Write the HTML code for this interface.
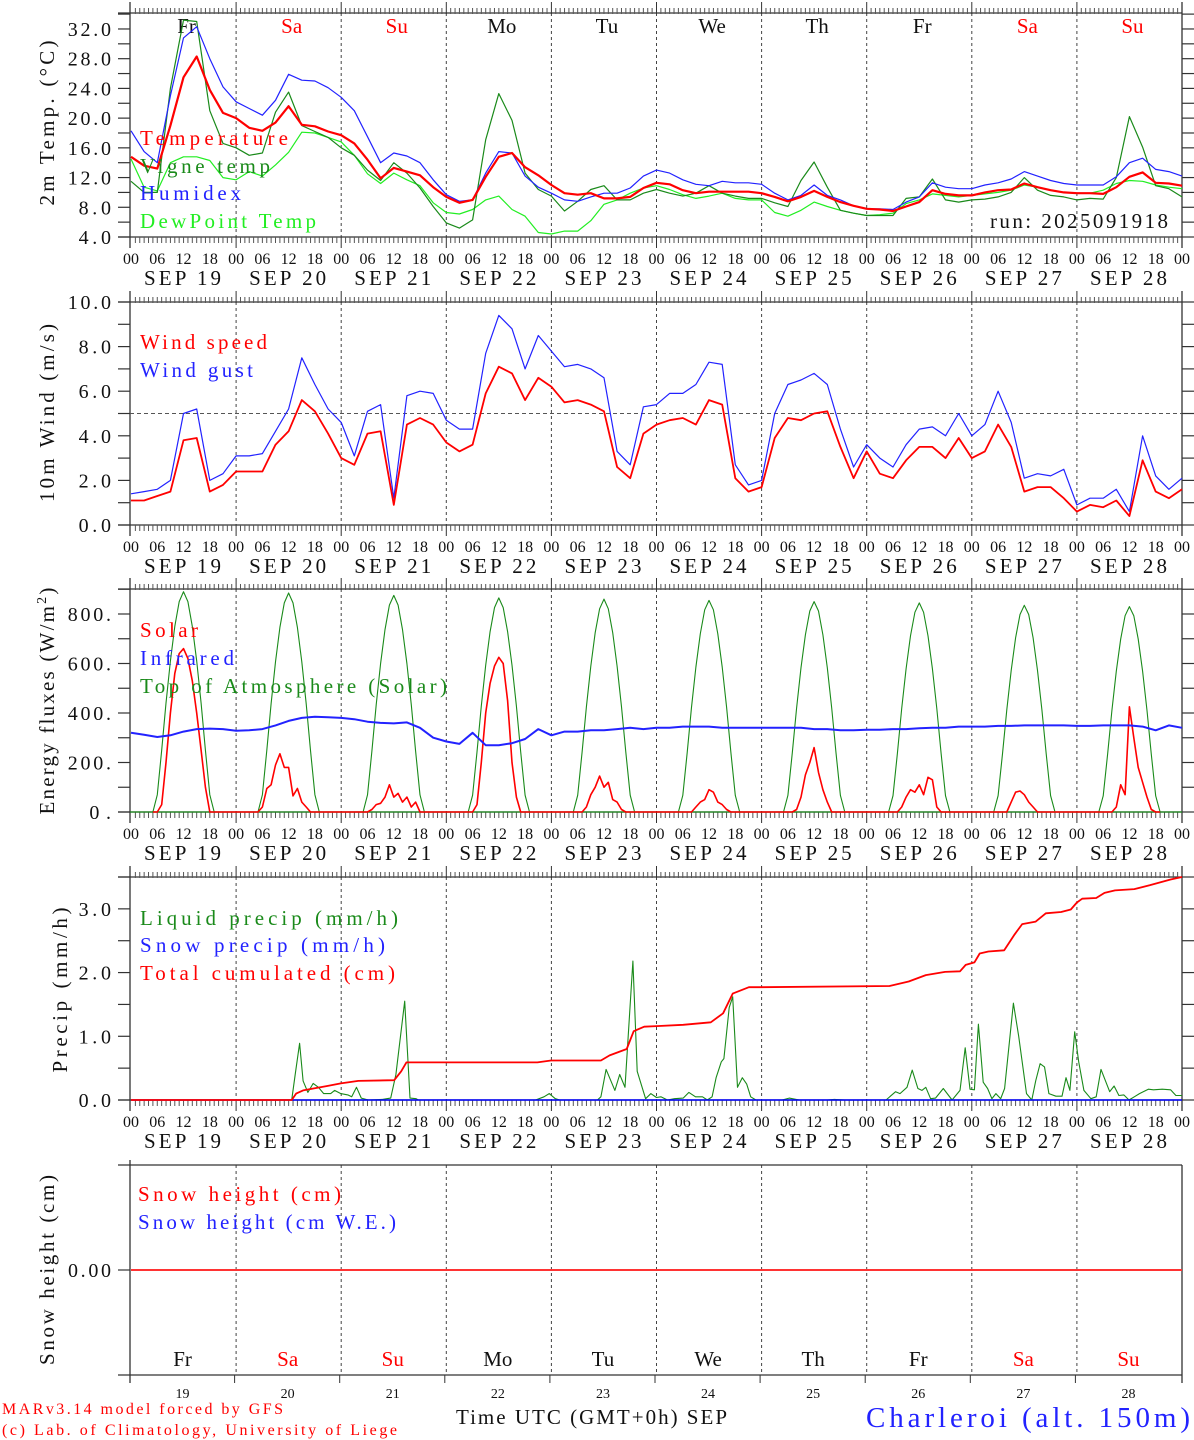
<!DOCTYPE html>
<html><head><meta charset="utf-8">
<style>
html,body{margin:0;padding:0;background:#fff;}
svg{display:block;font-family:"Liberation Serif",serif;}
</style></head>
<body>
<svg id="chart" width="1194" height="1440" viewBox="0 0 1194 1440" xmlns="http://www.w3.org/2000/svg">
<rect x="0" y="0" width="1194" height="1440" fill="#fff"/>
</svg>
<script>
// ---------- data ----------
const dayNames = ['Fr','Sa','Su','Mo','Tu','We','Th','Fr','Sa','Su'];
const dayNums = ['19','20','21','22','23','24','25','26','27','28'];
const hourLabels = ['00','06','12','18'];
const tempTickLabels = ['4.0','8.0','12.0','16.0','20.0','24.0','28.0','32.0'];
const windTickLabels = ['0.0','2.0','4.0','6.0','8.0','10.0'];
const energyTickLabels = ['0.','200.','400.','600.','800.'];
const precipTickLabels = ['0.0','1.0','2.0','3.0'];

const temperature = [14.8,13.6,13.2,19,25.5,28.3,23.8,20.7, 20,18.7,18.3,19.4,21.6,19.1,18.9,18.2, 17.7,16.6,14.4,11.9,13.3,12.8,12.3,10.7, 9.4,8.6,9,12.1,14.8,15.3,13.4,12.3, 11,9.9,9.7,9.9,9.2,9.2,9.4,10.6, 11.3,11.1,10.3,9.9,10.1,10.1,10.1,10.1, 9.9,9.4,8.8,9.4,10.2,9.4,8.7,8.2, 7.8,7.7,7.5,8.1,8.7,10.3,9.8,9.6, 9.6,10,10.3,10.4,11.2,10.7,10.3,10, 9.9,9.9,9.8,10.7,12.1,12.7,11.3,11.2,10.9];
const humidex = [18.3,15.5,14,23,30.8,32.3,28,24.2, 22.2,21.3,20.4,22.4,25.9,25.1,25,24.1, 22.8,21,17.5,14,15.3,14.9,14,11.7, 9.7,8.8,9,12.6,15.5,15.3,12.2,10.7, 9.9,9,8.8,9.4,9.9,9.9,10.6,12.2, 13,12.6,11.7,11.1,10.9,11.5,11.3,11.3, 11.1,9.9,9,9.6,11,9.6,9,8.2, 7.8,7.8,7.7,8.7,9.4,11.3,10.7,10.5, 10.5,11,11.3,11.8,12.8,12.2,11.6,11.2, 11,11,11,12.1,14,14.6,13.1,12.8,12.2];
const vigneTemp = [11.5,10,10,24,33.2,33,21,16.6, 16,15,15.3,20.8,23.5,19,18.2,17.4, 16,15,13,11.6,14,12.6,10.6,8.1, 5.9,5.2,6.3,17.1,23.3,19.7,12.6,10.4, 9.5,7.5,8.8,10.4,10.9,9,9,9.9, 10.4,9.9,9.5,9.9,10.9,9.9,9.5,9.2, 9.2,8.6,8.1,11.6,14.1,10.7,7.6,7.2, 6.9,6.9,6.9,9.2,9.4,11.8,9,8.7, 9,9.1,9.4,10,12,10.3,9.6,9.4, 9,9.2,9.1,12,20.2,16.1,10.9,10.5,9.4];
const dewPoint = [14.5,10.7,10.2,14,14.8,14.8,14.3,12, 11.7,12.8,12.2,13.7,15.4,18.1,18,17.4, 16.8,15,12.5,11.2,12.6,11.7,10.9,8.6, 7.3,7.1,7.7,9,9.5,7.7,6.8,4.6, 4.4,4.8,4.8,6.2,8.4,9,9.9,10.6, 10.9,10.4,9.7,9.2,9.5,9.9,9.2,9, 9,7.3,6.8,7.6,8.7,8.1,7.6,7.2, 6.9,7,7.2,8.5,9,9.8,9.6,9.4, 9.6,9.8,10,10.3,11,10.7,10.3,10, 9.9,9.9,10.3,11.2,11.6,11.5,11,10.7,10.5];

const windSpeed = [1.1,1.1,1.3,1.5,3.8,3.9,1.5,1.8, 2.4,2.4,2.4,3.6,4.2,5.6,5.1,4.1, 3.0,2.7,4.1,4.2,0.9,4.5,4.8,4.5, 3.7,3.3,3.6,5.9,7.1,6.8,5.6,6.6, 6.2,5.5,5.6,5.4,5.1,2.6,2.1,4.1, 4.5,4.7,4.8,4.5,5.6,5.4,2.1,1.5, 1.7,3.9,4.8,4.7,5.0,5.1,3.5,2.1, 3.3,2.3,2.1,2.9,3.5,3.5,3.0,3.9, 3.0,3.3,4.5,3.5,1.5,1.7,1.7,1.2, 0.6,0.9,0.8,1.1,0.4,2.9,1.5,1.2,1.6];
const windGust = [1.4,1.5,1.6,2.0,5.0,5.2,2.0,2.3, 3.1,3.1,3.2,4.2,5.2,7.5,6.3,5.2, 4.6,3.1,5.1,5.4,1.2,5.8,6.0,5.9, 4.7,4.3,4.3,7.7,9.4,8.8,7.0,8.5, 7.8,7.1,7.2,7.0,6.6,3.3,2.7,5.3, 5.4,5.9,5.9,6.3,7.3,7.2,2.7,1.8, 2.0,5.0,6.3,6.5,6.8,6.3,4.3,2.6, 3.6,3.0,2.6,3.6,4.3,4.4,4.0,5.0, 4.0,4.5,6.0,4.6,2.1,2.3,2.2,2.5, 0.9,1.2,1.2,1.6,0.6,4.0,2.2,1.6,2.1];

// hourly values from 05h to 19h for each day
const solarDays = [
 [0,0,30,200,400,560,640,660,620,530,400,250,100,0,0],
 [0,20,95,110,190,235,180,180,65,95,40,20,0,0,0],
 [0,0,10,30,35,60,110,60,75,40,60,20,40,0,0],
 [0,0,30,200,400,520,590,625,600,450,200,60,0,0,0],
 [0,0,0,20,70,100,145,100,120,50,40,10,0,0,0],
 [0,0,0,0,20,40,50,90,80,40,30,10,0,0,0],
 [0,0,0,10,60,150,200,260,160,90,40,0,0,0,0],
 [0,0,0,20,60,90,80,110,70,140,130,20,0,0,0],
 [0,0,0,0,40,80,85,70,40,20,0,0,0,0,0],
 [0,0,0,0,20,110,70,425,300,180,120,60,10,0,0]];
const toaDays = [
 [0,70,250,440,610,750,850,890,850,750,610,440,250,70,0],
 [0,70,249,437,607,746,845,885,845,746,607,437,249,70,0],
 [0,69,246,433,600,737,836,875,836,737,600,433,246,69,0],
 [0,68,243,428,593,729,826,865,826,729,593,428,243,68,0],
 [0,68,242,425,589,725,821,860,821,725,589,425,242,68,0],
 [0,67,240,423,586,720,817,855,817,720,586,423,240,67,0],
 [0,67,239,420,583,716,812,850,812,716,583,420,239,67,0],
 [0,66,237,418,579,712,807,845,807,712,579,418,237,66,0],
 [0,66,235,413,572,704,798,835,798,704,572,413,235,66,0],
 [0,65,233,410,569,699,793,830,793,699,569,410,233,65,0]];
const infrared = [320,312,303,310,325,335,337,335, 328,330,335,350,368,380,385,383, 380,375,365,360,358,362,340,300, 285,275,320,270,270,278,295,335, 310,325,325,330,330,335,340,335, 340,340,345,345,345,340,340,340, 340,340,340,340,335,335,330,330, 332,332,335,335,338,340,340,345, 345,345,348,348,350,350,350,350, 348,348,350,350,350,345,330,350,340];

const liquidHours = [0,36.7,37.5,38.5,39.3,40.4,41.6,42.8,44,45.6,46.5,47.9,49.5,50.4,51.5,52.6,54.2,57.4,59.3,60.5,62.5,63.7,65.1,65.6,92.4,94.3,95.5,96.9,97.9,106.5,107.3,108.5,110.5,111.6,112.8,114.6,115.6,117.5,118.7,120,121,122.5,124.1,126.1,127.4,128.9,130.5,131.6,132.7,133.6,134.8,135.4,136.6,137.4,138.5,139.6,140.6,141.5,142.7,148.7,150.3,152.6,159,160.6,163,172.4,174.6,175.6,177.2,178.4,179.7,180.6,181.5,182.6,183.7,185.5,187.5,189.3,190.5,191.6,192.6,193.5,194.6,195.6,196.6,197.5,198.6,199.5,201.5,202.7,204.5,205.7,206.6,207.6,208.6,209.6,211.2,212.6,213.5,214.4,215.5,216.4,217.6,219.2,220.4,221.5,223.5,224.5,225.6,226.7,227.9,229.1,230.3,232.3,233.5,235.5,237.4,238.6,239.6,240];
const liquidValues = [0,0,0.4,0.89,0.3,0.12,0.26,0.2,0.1,0.1,0.15,0.1,0.08,0.05,0.2,0.03,0,0.01,0.03,0.4,1.55,0.03,0.02,0,0,0.05,0.1,0.02,0,0,0.05,0.48,0.15,0.4,0.2,2.18,0.45,0.02,0.1,0.04,0.05,0,0.02,0.03,0.12,0.05,0.05,0,0.05,0.35,0.6,0.65,1.45,1.62,0.2,0.35,0.25,0.05,0,0,0.03,0,0,0.01,0,0,0.13,0.1,0.2,0.47,0.18,0.15,0.2,0.02,0.03,0.18,0,0.15,0.82,0.17,0.16,1.19,0.28,0.18,0.02,0.1,0.02,0.18,1.52,1.0,0.1,0,0.3,0.57,0.52,0.1,0.06,0.06,0.35,0.15,1.07,0.6,0.15,0.02,0.05,0.48,0.13,0.22,0.07,0.08,0,0.05,0.1,0.17,0.16,0.17,0.16,0.07,0.07,0.07];
const cumulHours = [0,36.7,37.7,39.3,44.8,47.9,51.9,60.1,61.7,62.9,68.4,92.8,95.9,107.3,109.3,113.2,114.8,117.2,120,126.1,132.4,135.2,137.4,141.1,143.9,173.2,177.6,181.5,185.9,189.3,190.6,192.6,193.8,195.8,199.4,201.8,203.5,206.6,208.9,212.4,214.6,216,217.2,220.4,222.3,224.7,229.1,232.6,237.4,240];
const cumulValues = [0,0,0.1,0.15,0.22,0.26,0.3,0.31,0.45,0.59,0.59,0.59,0.62,0.62,0.7,0.8,1.08,1.15,1.16,1.18,1.22,1.36,1.67,1.77,1.77,1.79,1.86,1.96,2.01,2.02,2.12,2.16,2.3,2.33,2.35,2.6,2.76,2.8,2.93,2.95,2.99,3.1,3.16,3.17,3.25,3.29,3.31,3.37,3.46,3.5];
const snowPrecip = [0,0];
const snowHeight = [0,0];

// ---------- layout ----------
const NS = 'http://www.w3.org/2000/svg';
const svg = document.getElementById('chart');
const X0 = 131, DAYW = 105.1, XL = 130, XR = 1182;
const panels = [
 {top:13, bot:237, min:4, max:34.15},
 {top:302, bot:525, min:0, max:10},
 {top:589, bot:812, min:0, max:901},
 {top:877, bot:1100, min:0, max:3.5},
 {top:1165, bot:1375, min:-1, max:1}
];
function xh(h){ return X0 + h*DAYW/24; }
function yv(p, v){ const P = panels[p]; return P.bot - (v-P.min)/(P.max-P.min)*(P.bot-P.top); }

function mk(tag, attrs, nm, parent){
  const el = document.createElementNS(NS, tag);
  for (const k in attrs) el.setAttribute(k, attrs[k]);
  
  
  (parent || svg).appendChild(el);
  return el;
}
function txt(str, attrs, nm, parent){
  const el = mk('text', attrs, nm, parent);
  el.textContent = str;
  return el;
}
function line(x1,y1,x2,y2,stroke,w,nm,parent,dash){
  const a = {x1:x1,y1:y1,x2:x2,y2:y2,stroke:stroke,'stroke-width':w};
  if (dash) a['stroke-dasharray'] = dash;
  return mk('line', a, nm, parent);
}
function poly(p, hours, vals, color, w, nm){
  const pts = hours.map((h,i)=> xh(h).toFixed(1)+','+yv(p, vals[i]).toFixed(1)).join(' ');
  return mk('polyline', {points:pts, fill:'none', stroke:color, 'stroke-width':w, 'stroke-linejoin':'round'}, nm);
}
function hours3(n){ const a=[]; for(let i=0;i<n;i++) a.push(i*3); return a; }
function hourly(days){ const h=[], v=[]; days.forEach((row,d)=>row.forEach((val,j)=>{h.push(d*24+5+j); v.push(val);})); return {h:h, v:v}; }

const AX = '#333';
// ---------- panel frames ----------
panels.forEach((P, pi) => {
  const g = mk('g', {}, 'panel-'+(pi+1));
  for (let d=1; d<10; d++) line(xh(d*24), P.top, xh(d*24), P.bot, '#444', 1, 'day-gridline', g, '3,3');
  line(118, P.top, XR, P.top, AX, 1.3, 'top-axis-line', g);
  line(118, P.bot, XR, P.bot, AX, 1.3, 'bottom-axis-line', g);
  line(XL, P.top - (pi==4?5:11), XL, P.bot + (pi==4?8:11), AX, 1.3, 'left-axis-line', g);
  line(XR, P.top - (pi==4?0:11), XR, P.bot + (pi==4?8:11), AX, 1.3, 'right-axis-line', g);
  if (pi < 4) {
    for (let h=1; h<240; h++) {
      const day = h%24==0;
      line(xh(h), P.top - (day?11:5), xh(h), P.top+1, day?AX:'#555', 1, day?'top-day-tick':'top-hour-tick', g);
      line(xh(h), P.bot, xh(h), P.bot + (day?11:6), day?AX:'#555', 1, day?'bottom-day-tick':'bottom-hour-tick', g);
    }
    for (let d=0; d<=10; d++) for (let k=0; k<4; k++) {
      if (d==10 && k>0) continue;
      txt(hourLabels[k], {x:xh(d*24+k*6), y:P.bot+27, 'font-size':16, 'text-anchor':'middle', fill:'#111'}, 'hour-label', g);
    }
    for (let d=0; d<10; d++)
      txt('SEP  '+dayNums[d], {x:xh(d*24+12)-1, y:P.bot+48, 'font-size':21, 'text-anchor':'middle', fill:'#111', 'xml:space':'preserve', textLength:77, lengthAdjust:'spacing'}, 'date-label', g);
  } else {
    for (let d=1; d<10; d++) line(xh(d*24)-1.5, P.bot, xh(d*24)-1.5, P.bot+8, AX, 1, 'bottom-day-tick', g);
  }
});

// ---------- y axes ----------
function yTicks(p, from, to, step, labels, labelStep){
  const g = mk('g', {}, 'y-axis-'+(p+1));
  let li = 0;
  for (let v=from; v<=to+1e-9; v+=step) {
    const y = yv(p, v);
    line(118, y, XL, y, AX, 1.2, 'y-tick', g);
    line(XR, y, 1194, y, AX, 1.2, 'y-tick-right', g);
    if (Math.abs(((v-from)/labelStep) - Math.round((v-from)/labelStep)) < 1e-6) {
      const s = labels[li++];
      txt(s, {x:111, y:y+7, 'font-size':20, 'text-anchor':'end', fill:'#111', textLength:s.length*10.8, lengthAdjust:'spacing'}, 'y-tick-label', g);
    }
  }
}
yTicks(0, 4, 34, 2, tempTickLabels, 4);
yTicks(1, 0, 10, 1, windTickLabels, 2);
yTicks(2, 0, 900, 100, energyTickLabels, 200);
yTicks(3, 0, 3.5, 0.5, precipTickLabels, 1);
(function(){
  const y = yv(4, 0);
  line(118, y, XL, y, AX, 1.2, 'y-tick', svg);
  txt('0.00', {x:111, y:y+7, 'font-size':20, 'text-anchor':'end', fill:'#111', textLength:43, lengthAdjust:'spacing'}, 'y-tick-label', svg);
})();

// axis titles
function ytitle(str, x, y, len, nm){
  return txt(str, {x:x, y:y, 'font-size':21, 'text-anchor':'middle', fill:'#111', transform:'rotate(-90 '+x+' '+y+')', textLength:len, lengthAdjust:'spacing'}, nm);
}
ytitle('2m Temp. (\u00B0C)', 54, 123, 165, 'y-axis-title-temp');
ytitle('10m Wind (m/s)', 54, 413, 178, 'y-axis-title-wind');
(function(){
  const t = mk('text', {x:54, y:700, 'font-size':21, 'text-anchor':'middle', fill:'#111', transform:'rotate(-90 54 700)', 'letter-spacing':2.2}, 'y-axis-title-energy');
  t.textContent = 'Energy fluxes (W/m';
  const s = mk('tspan', {'font-size':14, dy:-8}, 'superscript-2', t); s.textContent = '2';
  const c = mk('tspan', {dy:8}, 'paren', t); c.textContent = ')';
})();
ytitle('Precip (mm/h)', 67, 990, 165, 'y-axis-title-precip');
ytitle('Snow height (cm)', 54, 1270, 190, 'y-axis-title-snow');

// weekday labels
for (let d=0; d<10; d++) {
  const col = (dayNames[d]=='Sa'||dayNames[d]=='Su') ? '#ff0000' : '#111';
  txt(dayNames[d], {x:xh(d*24+12)+3, y:33, 'font-size':21, 'text-anchor':'middle', fill:col}, 'weekday-label-top');
  txt(dayNames[d], {x:xh(d*24+12)-1, y:1366, 'font-size':21, 'text-anchor':'middle', fill:col}, 'weekday-label-bottom');
  txt(dayNums[d], {x:xh(d*24+12)-1, y:1398, 'font-size':14, 'text-anchor':'middle', fill:'#111'}, 'day-number-label');
}

// wind 5 m/s reference line
line(XL, yv(1,5), XR, yv(1,5), '#555', 1, 'wind-reference-line', svg, '4,3');

// ---------- series ----------
const h81 = hours3(81);
poly(0, h81, dewPoint, '#22ee22', 1.2, 'dewpoint-line');
poly(0, h81, vigneTemp, '#1a8a1a', 1.2, 'vigne-temp-line');
poly(0, h81, humidex, '#2222ff', 1.2, 'humidex-line');
poly(0, h81, temperature, '#ff0000', 2.2, 'temperature-line');

poly(1, h81, windGust, '#2222ff', 1.2, 'wind-gust-line');
poly(1, h81, windSpeed, '#ff0000', 1.8, 'wind-speed-line');

const toa = hourly(toaDays), sol = hourly(solarDays);
line(XL, yv(2,0), XR, yv(2,0), '#1a8a1a', 1.2, 'toa-zero-line', svg);
poly(2, toa.h, toa.v, '#1a8a1a', 1.1, 'toa-solar-line');
poly(2, sol.h, sol.v, '#ff0000', 1.6, 'solar-line');
poly(2, h81, infrared, '#2222ff', 2, 'infrared-line');

poly(3, liquidHours, liquidValues, '#1a8a1a', 1.1, 'liquid-precip-line');
poly(3, [0,240], snowPrecip, '#0000ff', 1.6, 'snow-precip-line');
poly(3, cumulHours, cumulValues, '#ff0000', 1.8, 'total-cumulated-line');

poly(4, [0,240], snowHeight, '#0000ff', 1.2, 'snow-we-line');
poly(4, [0,240], snowHeight, '#ff3333', 2, 'snow-height-line');

// ---------- legends ----------
function leg(str, x, y, len, col, nm){
  return txt(str, {x:x, y:y, 'font-size':21, fill:col, textLength:len, lengthAdjust:'spacing', 'xml:space':'preserve'}, nm);
}
leg('Temperature', 140, 145, 148, '#ff0000', 'legend-temperature');
leg('Vigne temp', 140, 173, 130, '#1a8a1a', 'legend-vigne-temp');
leg('Humidex', 140, 200, 101, '#2222ff', 'legend-humidex');
leg('DewPoint Temp', 140, 228, 176, '#22ee22', 'legend-dewpoint');
leg('run: 2025091918', 990, 228, 178, '#111', 'run-label');
leg('Wind speed', 140, 349, 127, '#ff0000', 'legend-wind-speed');
leg('Wind gust', 140, 377, 113, '#2222ff', 'legend-wind-gust');
leg('Solar', 140, 637, 58, '#ff0000', 'legend-solar');
leg('Infrared', 140, 665, 94, '#2222ff', 'legend-infrared');
leg('Top of Atmosphere (Solar)', 140, 693, 307, '#1a8a1a', 'legend-toa');
leg('Liquid precip (mm/h)', 140, 925, 258, '#1a8a1a', 'legend-liquid-precip');
leg('Snow precip (mm/h)', 140, 952, 245, '#2222ff', 'legend-snow-precip');
leg('Total cumulated (cm)', 140, 980, 255, '#ff0000', 'legend-total-cumulated');
leg('Snow height (cm)', 138, 1201, 203, '#ff0000', 'legend-snow-height');
leg('Snow height (cm W.E.)', 138, 1229, 258, '#2222ff', 'legend-snow-we');

// ---------- footer ----------
txt('MARv3.14 model forced by GFS', {x:2, y:1414, 'font-size':16, fill:'#ff0000', textLength:281, lengthAdjust:'spacing'}, 'footer-model');
txt('(c) Lab. of Climatology, University of Liege', {x:2, y:1435, 'font-size':16, fill:'#ff0000', textLength:395, lengthAdjust:'spacing'}, 'footer-credit');
txt('Time UTC (GMT+0h) SEP', {x:456, y:1424, 'font-size':21, fill:'#111', textLength:271, lengthAdjust:'spacing'}, 'x-axis-title');
txt('Charleroi (alt. 150m)', {x:866, y:1427, 'font-size':29, fill:'#2222ff', textLength:324, lengthAdjust:'spacing'}, 'location-title');
</script>
</body></html>
